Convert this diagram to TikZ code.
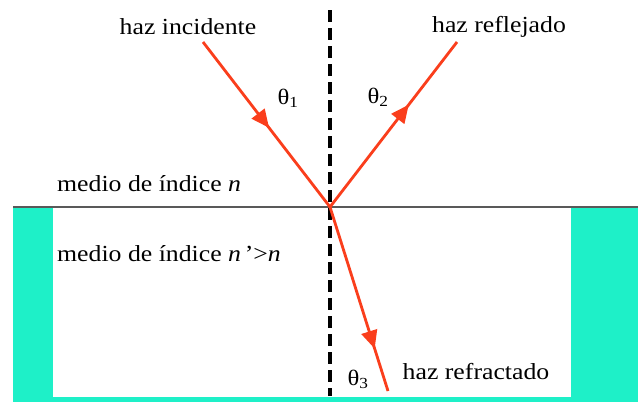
\documentclass[tikz,border=0pt]{standalone}
\usepackage{fontspec}
\setmainfont{Liberation Serif}[FakeStretch=1.12]
\usetikzlibrary{arrows.meta,decorations.markings}
\definecolor{rayred}{RGB}{250,62,28}
\definecolor{teal2}{RGB}{30,240,200}
\tikzset{
  ray/.style={draw=rayred, line width=2.8pt},
  midarrow/.style={postaction={decorate},decoration={markings,
     mark=at position #1 with {\arrow{Triangle[length=18pt,width=16pt,fill=rayred,color=rayred]}}}},
  lbl/.style={font=\fontsize{23}{25}\selectfont, inner sep=0pt},
  ang/.style={font=\fontsize{22}{24}\selectfont, inner sep=0pt},
}
\begin{document}
\begin{tikzpicture}[x=1pt,y=-1pt]
\useasboundingbox (0,0) rectangle (638,402);
% media
\fill[teal2] (13,207) rectangle (638,402);
\fill[white] (53,208) rectangle (571,397);
\draw[gray!70!black, line width=1.8pt] (13,207) -- (638,207);
% normal
\coordinate (ntop) at (330,10);
\coordinate (nbot) at (330,396);
\draw[black, line width=3.4pt, dash pattern=on 12pt off 6pt] (ntop) -- (nbot);
% rays
\coordinate (O) at (330,207);
\coordinate (inc) at (203,42);
\coordinate (refl) at (457,42);
\coordinate (refr) at (388,391);
\draw[ray, midarrow=0.52] (inc) -- (O);
\draw[ray, midarrow=0.62] (O) -- (refl);
\draw[ray, midarrow=0.77] (O) -- (refr);
% labels
\node[lbl] (t1) at (188,27) {haz incidente};
\node[lbl] (t2) at (499,27) {haz reflejado};
\node[lbl] (t3) at (476,372) {haz refractado};
\node[lbl, anchor=west] (m1) at (57,184) {medio de índice \textit{n}};
\node[lbl, anchor=west] (m2) at (57,254) {medio de índice \textit{n}\,'>\textit{n}};
\node[ang] (a1) at (288,98) {θ\textsubscript{1}};
\node[ang] (a2) at (378,97) {θ\textsubscript{2}};
\node[ang] (a3) at (358,379) {θ\textsubscript{3}};
\end{tikzpicture}
\end{document}
